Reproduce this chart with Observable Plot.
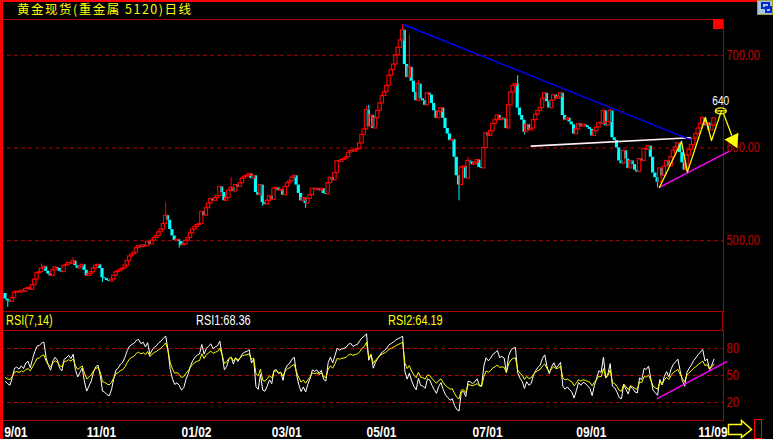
<!DOCTYPE html>
<html><head><meta charset="utf-8">
<script src="https://cdn.jsdelivr.net/npm/d3@7"></script>
<script src="https://cdn.jsdelivr.net/npm/@observablehq/plot@0.6"></script>
<style>
html,body{margin:0;padding:0;background:#000;}
#root{position:relative;width:773px;height:439px;background:#000;overflow:hidden;font-family:"Liberation Sans",Arial,sans-serif;}
.abs{position:absolute;}
.cond{display:inline-block;transform:scaleX(0.78);transform-origin:0 0;white-space:nowrap;}
</style></head><body><div id="root"></div>
<script>
// ---------- data ----------
const title = "黄金现货(重金属 5120)日线";
const open0 = 443;
const closes = [
437,435,434,438,444,445,444,446,445,448,449,447,452,458,465,466,470,472,467,464,
462,468,471,470,467,466,473,474,476,475,478,473,470,472,474,468,462,464,466,470,
473,474,470,460,459,457,456,458,462,466,467,469,470,473,478,483,485,487,492,494,
493,495,494,499,496,500,503,505,509,512,518,527,522,512,505,500,501,499,495,496,
500,503,508,512,515,517,518,531,527,535,540,545,543,546,548,558,552,543,546,554,
557,553,560,558,562,567,569,570,572,567,570,552,549,560,541,539,543,548,544,556,
557,554,555,549,558,562,564,568,570,560,551,543,546,540,545,549,556,555,556,554,
556,551,550,562,568,565,573,586,585,587,588,590,595,597,596,598,599,605,614,620,
641,623,635,621,632,640,648,656,660,667,678,684,690,700,708,716,727,690,676,687,
672,660,651,669,653,651,646,659,657,648,640,632,639,643,632,621,615,608,609,590,
570,560,579,580,567,586,585,582,584,587,579,578,600,616,613,618,626,630,635,630,
632,631,621,646,660,667,669,643,635,630,617,625,619,621,630,636,640,643,653,659,
650,643,651,657,653,655,659,635,630,632,628,625,615,620,626,623,625,624,622,620,
613,618,622,627,626,640,624,628,640,611,608,600,586,583,597,588,578,586,582,576,
574,588,586,599,598,602,590,573,568,563,578,570,580,586,580,590,597,601,605,595,
584,576,592,598,603,610,615,621,626,632,624,627,619,624,632
];
// visible wick spikes: day index, high, low (null = none)
const wickIdx  = [1,   16,  30,  43,  71,  77,  100, 114, 133, 160, 161, 176, 179, 183, 201, 205, 227, 230, 268, 289, 297, 309];
const wickHigh = [null,475, 482, null,541, null,568, null,null,645, 646, 733, 722, 673, null,590, 678, null,642, null,606, 634];
const wickLow  = [428, null,null,455, null,492, null,537, 535, null,null,null,null,null,543, null,null,614, null,557, null,null];

const priceTicks = [500, 600, 700];
const rsiTicks = [20, 50, 80];
const dateLabels = ["9/01","11/01","01/02","03/01","05/01","07/01","09/01","11/09"];
const dateIdx    = [-0.6, 36, 78, 118, 160, 207, 253, 307];
const rsiTexts = ["RSI(7,14)", "RSI1:68.36", "RSI2:64.19"];
// RSI smoothing start (average daily gain / absolute move before the first bar)
const rsiSeedUp = 2.6, rsiSeedAbs = 5;

// drawn annotations (day index, price)
const blueI = [176.5, 303.5], blueP = [733, 609];
const whiteI = [233, 303.5], whiteP = [602, 611];
const magI = [289.8, 320.4], magP = [557.4, 596];
const zigI = [289.8, 299.6, 302.2, 310.2, 312.9, 317.3];
const zigP = [557.4, 607, 574, 633, 608, 640];
const arrI = [318.4, 321.8], arrP = [636, 614];
const triI = [322.6], triP = [608.5];
const targetLabel = ["640"], targetI = [317.0], targetP = [651];
const rsiMagI = [288.9, 319.6], rsiMagV = [24.4, 65.5];

// ---------- build ----------
const RED = "#ff0000", CYAN = "#00ffff", YEL = "#ffff00", DK = "#b00000", TXT = "#c80000";
const N = closes.length;
const bars = closes.map((c, i) => {
  const o = i === 0 ? open0 : closes[i - 1];
  return {i, o, c, up: c >= o, top: Math.max(o, c), bot: Math.min(o, c)};
});
wickIdx.forEach((k, j) => { bars[k].hi = wickHigh[j]; bars[k].lo = wickLow[j]; });
const upB = bars.filter(d => d.up), dnB = bars.filter(d => !d.up);
const hiUp = bars.filter(d => d.hi != null && d.up), hiDn = bars.filter(d => d.hi != null && !d.up);
const loUp = bars.filter(d => d.lo != null && d.up), loDn = bars.filter(d => d.lo != null && !d.up);

function rsi(n) {
  const out = [];
  let u = rsiSeedUp, a = rsiSeedAbs;
  for (let k = 0; k < N; k++) {
    const prev = k === 0 ? open0 : closes[k - 1];
    const d = closes[k] - prev;
    u = (Math.max(d, 0) + (n - 1) * u) / n; a = (Math.abs(d) + (n - 1) * a) / n;
    out.push(a === 0 ? 50 : u / a * 100);
  }
  return out;
}
const r1 = rsi(7), r2 = rsi(14);
const rsiData = closes.map((c, i) => ({i, a: r1[i], b: r2[i]}));

const pts = (I, P) => I.map((v, k) => ({i: v, p: P[k]}));
const kk = 0.5523;
const ellipseSym = {draw(ctx) { const rx = 5.5, ry = 3;
  ctx.moveTo(rx, 0); ctx.bezierCurveTo(rx, ry*kk, rx*kk, ry, 0, ry); ctx.bezierCurveTo(-rx*kk, ry, -rx, ry*kk, -rx, 0);
  ctx.bezierCurveTo(-rx, -ry*kk, -rx*kk, -ry, 0, -ry); ctx.bezierCurveTo(rx*kk, -ry, rx, -ry*kk, rx, 0); ctx.closePath();
  ctx.moveTo(-rx, 0); ctx.lineTo(rx, 0); }};

const xs = {domain: [0, N - 1], range: [5, 713.5], axis: null};

const main = Plot.plot({
  width: 773, height: 292, marginLeft: 0, marginRight: 50, marginTop: 0, marginBottom: 0,
  style: {background: "transparent", overflow: "visible", color: TXT, fontSize: "14px", fontFamily: "Liberation Sans, Arial, sans-serif"},
  x: xs,
  y: {domain: [423.6, 738.6], axis: "right", ticks: priceTicks, tickSize: 0, tickPadding: 3, tickFormat: d => d.toFixed(2), label: null},
  marks: [
    Plot.ruleY(priceTicks, {stroke: DK, strokeDasharray: "4,3"}),
    Plot.frame({stroke: DK}),
    Plot.ruleX(hiUp, {x: "i", y1: "top", y2: "hi", stroke: RED}),
    Plot.ruleX(loUp, {x: "i", y1: "bot", y2: "lo", stroke: RED}),
    Plot.ruleX(hiDn, {x: "i", y1: "top", y2: "hi", stroke: CYAN}),
    Plot.ruleX(loDn, {x: "i", y1: "bot", y2: "lo", stroke: CYAN}),
    Plot.rect(dnB, {x1: d => d.i - 0.7, x2: d => d.i + 0.7, y1: "bot", y2: "top", fill: CYAN}),
    Plot.rect(upB, {x1: d => d.i - 0.75, x2: d => d.i + 0.75, y1: "bot", y2: d => Math.max(d.top, d.bot + 0.8), fill: "none", stroke: RED, strokeWidth: 1.1}),
    Plot.line(pts(whiteI, whiteP), {x: "i", y: "p", stroke: "#fff0f0", strokeWidth: 1.6}),
    Plot.line(pts(blueI, blueP), {x: "i", y: "p", stroke: "#0000ff", strokeWidth: 1.5}),
    Plot.line(pts(magI, magP), {x: "i", y: "p", stroke: "#ff00ff", strokeWidth: 1.4}),
    Plot.line(pts(zigI, zigP), {x: "i", y: "p", stroke: YEL, strokeWidth: 1.3}),
    Plot.line(pts(arrI, arrP), {x: "i", y: "p", stroke: YEL, strokeWidth: 1.3}),
    Plot.dot(pts(triI, triP), {x: "i", y: "p", symbol: "triangle", r: 4.8, rotate: 154, fill: YEL, stroke: YEL}),
    Plot.dot(pts(targetI, [640]), {x: "i", y: "p", symbol: ellipseSym, stroke: YEL, strokeWidth: 1.3, fill: "none"}),
    Plot.text(targetLabel, {x: () => targetI[0], y: () => targetP[0], text: d => d, fill: "white", fontSize: 13})
  ]
});

const rsiPlot = Plot.plot({
  width: 773, height: 109, marginLeft: 0, marginRight: 50, marginTop: 0, marginBottom: 19,
  style: {background: "transparent", overflow: "visible", color: TXT, fontSize: "14px", fontFamily: "Liberation Sans, Arial, sans-serif"},
  x: xs,
  y: {domain: [0, 100], axis: "right", ticks: rsiTicks, tickSize: 0, tickPadding: 3, label: null},
  marks: [
    Plot.ruleY(rsiTicks, {stroke: DK, strokeDasharray: "4,3"}),
    Plot.frame({stroke: DK}),
    Plot.line(rsiData, {x: "i", y: "a", stroke: "white", strokeWidth: 1}),
    Plot.line(rsiData, {x: "i", y: "b", stroke: YEL, strokeWidth: 1}),
    Plot.line(pts(rsiMagI, rsiMagV), {x: "i", y: "p", stroke: "#ff00ff", strokeWidth: 1.4}),
    Plot.text(dateLabels, {x: (d, j) => dateIdx[j], y: 0, dy: 12, text: d => d, textAnchor: "start", fill: "white", fontWeight: "bold", fontSize: 15})
  ]
});

const root = document.getElementById("root");
function addDiv(css, html) { const d = document.createElement("div"); d.className = "abs"; d.style.cssText = css; if (html) d.innerHTML = html; root.appendChild(d); return d; }

addDiv("left:17px;top:0px;color:#ffff00;font:12.5px/17px 'Noto Sans CJK SC',sans-serif;letter-spacing:1.5px;white-space:nowrap;", title);
main.style.position = "absolute"; main.style.left = "0px"; main.style.top = "19px"; root.appendChild(main);
rsiPlot.style.position = "absolute"; rsiPlot.style.left = "0px"; rsiPlot.style.top = "330px"; root.appendChild(rsiPlot);
// label strip between panels
addDiv("left:0;top:311px;width:723px;height:19px;border-right:1px solid " + DK + ";box-sizing:border-box;");
const stripX = [6, 196, 388], stripC = [YEL, "#ffffff", YEL];
rsiTexts.forEach((t, j) => addDiv(`left:${stripX[j]}px;top:311px;color:${stripC[j]};font:14px/19px 'Liberation Sans',Arial,sans-serif;`, `<span class="cond">${t}</span>`));
// red marker square and frame decorations
addDiv("left:713px;top:19px;width:10px;height:10px;background:#ff0000;");
addDiv("left:0;top:0;width:757px;height:2px;background:#ff0000;");
addDiv("left:0;top:0;width:3px;height:439px;background:#ff0000;");
addDiv("left:757px;top:0;width:16px;height:15px;background:#a9c4d8;border:1px solid #9c9c40;box-sizing:border-box;");
addDiv("left:761px;top:2px;width:9px;height:7px;border:2px solid #0028d0;box-sizing:border-box;");
addDiv("left:765px;top:6px;width:7px;height:7px;border:2px solid #0028d0;box-sizing:border-box;");
addDiv("left:727px;top:419px;width:46px;height:20px;",
  '<svg width="46" height="20"><polygon points="1.5,5.5 14.5,5.5 14.5,1.5 24.5,10.5 14.5,18.5 14.5,15.5 1.5,15.5" fill="#000" stroke="#ffff00" stroke-width="1.5"/><rect x="27.5" y="0.5" width="7" height="19" fill="none" stroke="#ff0000"/></svg>');

// condense the bitmap-like narrow labels
function condense(svg, f) {
  svg.querySelectorAll("text").forEach(t => {
    const w = t.getComputedTextLength();
    if (w > 0) { t.setAttribute("textLength", (w * f).toFixed(1)); t.setAttribute("lengthAdjust", "spacingAndGlyphs"); }
  });
}
condense(main, 0.78);
condense(rsiPlot, 0.8);
</script></body></html>
